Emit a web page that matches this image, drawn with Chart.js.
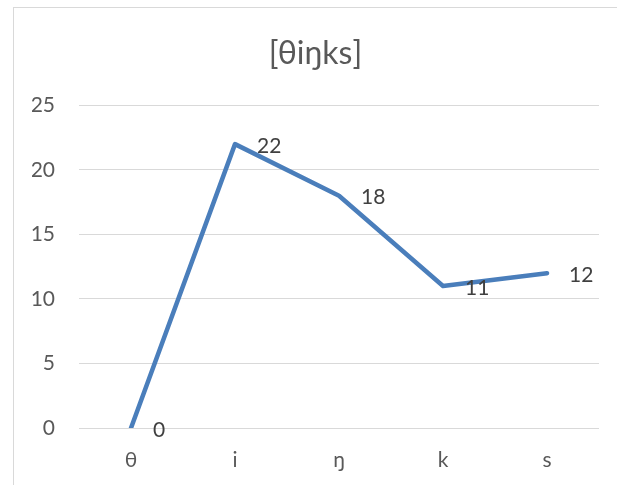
<!DOCTYPE html>
<html><head><meta charset="utf-8">
<script src="https://cdn.jsdelivr.net/npm/chart.js@4/dist/chart.umd.min.js"></script>
<style>
html,body{margin:0;padding:0;background:#fff;overflow:hidden;width:617px;height:485px;}
#frame{position:absolute;left:13px;top:7px;width:700px;height:600px;border:1px solid #d9d9d9;box-sizing:border-box;}
#wrap{position:absolute;left:0;top:0;width:617px;height:485px;}
</style></head>
<body>
<div id="frame"></div>
<div id="wrap"><canvas id="c" width="617" height="485"></canvas></div>
<script>
const titleText = "[θiŋks]";
const categories = ["θ", "i", "ŋ", "k", "s"];
const values = [0, 22, 18, 11, 12];
const yTicks = [0, 5, 10, 15, 20, 25];

const FONT = "Lato, 'Noto Sans', 'DejaVu Sans', sans-serif";

const labelPlugin = {
  id: 'pointLabels',
  afterDatasetsDraw(chart) {
    const ctx = chart.ctx;
    const meta = chart.getDatasetMeta(0);
    ctx.save();
    ctx.font = "21px " + FONT;
    ctx.fillStyle = "#404040";
    ctx.textAlign = "left";
    ctx.textBaseline = "middle";
    meta.data.forEach((pt, i) => {
      ctx.fillText(String(values[i]), pt.x + 22, pt.y + 2);
    });
    ctx.restore();
  }
};

new Chart(document.getElementById('c'), {
  type: 'line',
  data: {
    labels: categories,
    datasets: [{
      data: values,
      borderColor: '#4a7ebb',
      borderWidth: 4.5,
      pointRadius: 0,
      borderJoinStyle: 'round',
      borderCapStyle: 'round',
      tension: 0,
      fill: false
    }]
  },
  options: {
    responsive: false,
    animation: false,
    devicePixelRatio: 1,
    layout: { padding: { left: 32, right: 18, top: 0, bottom: 0 } },
    plugins: {
      legend: { display: false },
      tooltip: { enabled: false },
      title: {
        display: true,
        text: titleText,
        color: '#595959',
        font: { family: FONT, size: 32, weight: 'normal' },
        padding: { top: 34, bottom: 33 }
      }
    },
    scales: {
      x: {
        offset: true,
        grid: { display: false, drawTicks: false },
        border: { display: false },
        ticks: { color: '#595959', font: { family: FONT, size: 21 }, padding: 20 },
        afterFit(scale) { scale.height = 57; }
      },
      y: {
        min: 0, max: 25,
        afterBuildTicks(scale) { scale.ticks = yTicks.map(v => ({ value: v })); },
        grid: { color: '#d9d9d9', lineWidth: 1, drawTicks: false },
        border: { display: false },
        ticks: { color: '#595959', font: { family: FONT, size: 21 }, padding: 24 },
        afterFit(scale) { scale.width = 47; }
      }
    }
  },
  plugins: [labelPlugin]
});
</script>
</body></html>
